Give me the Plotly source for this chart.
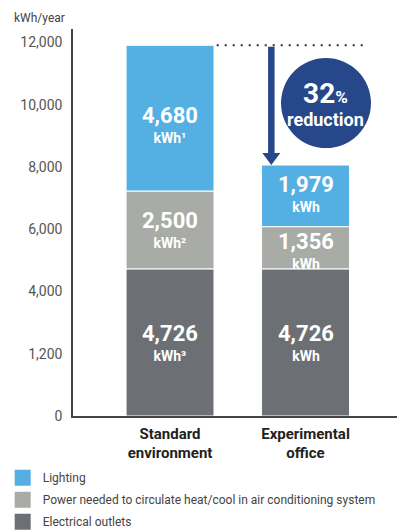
import plotly.graph_objects as go

# ---------------- data ----------------
categories = ["Standard<br>environment", "Experimental<br>office"]
series_names = ["Electrical outlets",
                "Power needed to circulate heat/cool in air conditioning system",
                "Lighting"]
outlets = [4726, 4726]
hvac = [2500, 1356]
lighting = [4680, 1979]
unit_labels = {
    "Lighting": ["kWh¹", "kWh"],
    "Power needed to circulate heat/cool in air conditioning system": ["kWh²", "kWh"],
    "Electrical outlets": ["kWh³", "kWh"],
}
y_tickvals = [0, 2000, 4000, 6000, 8000, 10000, 12000]
y_ticktext = ["0", "1,200", "4,000", "6,000", "8,000", "10,000", "12,000"]
y_title = "kWh/year"
reduction_word = "reduction"

# ---------------- style ----------------
colors = {
    "Lighting": "#54b0e3",
    "Power needed to circulate heat/cool in air conditioning system": "#a8aba6",
    "Electrical outlets": "#6c7075",
}
navy = "#27478b"
FONT = "Roboto, Liberation Sans, sans-serif"
bar_w = 0.649
xpos = [0, 1]
# pixel offsets for the value labels per series per category
label_shift = {
    "Lighting": [-6, 2],
    "Power needed to circulate heat/cool in air conditioning system": [0, -3],
    "Electrical outlets": [0, 0],
}

values = {
    "Electrical outlets": outlets,
    "Power needed to circulate heat/cool in air conditioning system": hvac,
    "Lighting": lighting,
}

fig = go.Figure()
annotations = []
base = [0, 0]
for name in series_names:
    vals = values[name]
    fig.add_trace(go.Bar(
        x=xpos, y=vals, base=base, width=bar_w, name=name,
        marker=dict(color=colors[name], line=dict(color="white", width=1)),
        showlegend=False, hoverinfo="skip",
    ))
    for j, v in enumerate(vals):
        mid = base[j] + v / 2
        annotations.append(dict(
            x=xpos[j], y=mid, xref="x", yref="y", showarrow=False,
            yshift=label_shift[name][j], yanchor="middle",
            text=(f"<b><span style='font-size:22px'>{v:,}</span></b><br>"
                  f"<b><span style='font-size:14px'>{unit_labels[name][j]}</span></b>"),
            font=dict(family=FONT, size=15, color="white")))
    base = [base[k] + vals[k] for k in range(2)]

# legend proxies (top to bottom: Lighting, HVAC, Outlets)
for name in ["Lighting", "Power needed to circulate heat/cool in air conditioning system",
             "Electrical outlets"]:
    fig.add_trace(go.Scatter(x=[None], y=[None], mode="markers", name=name, legendgroup=name,
                             marker=dict(symbol="square", size=16, color=colors[name]),
                             showlegend=True))

total_std = base[0]
total_exp = base[1]
pct = round((1 - total_exp / total_std) * 100)

arrow_x = 1 - bar_w / 2 + 0.072
shapes = [
    # dotted line at standard total
    dict(type="line", xref="x", yref="y", x0=xpos[0] + bar_w / 2 + 0.02, x1=1.424,
         y0=total_std, y1=total_std, line=dict(color="#333333", width=2, dash="2px,6px")),
    # arrow head
    dict(type="path", xref="x", yref="y", xsizemode="pixel", ysizemode="pixel",
         xanchor=arrow_x, yanchor=total_exp,
         path="M -9 12 L 9 12 L 0 0 Z", fillcolor=navy, line=dict(width=0)),
    # circle
    dict(type="circle", xref="x", yref="y", xsizemode="pixel", ysizemode="pixel",
         xanchor=1.151, yanchor=10050, x0=-45, x1=45, y0=-45, y1=45,
         fillcolor=navy, line=dict(width=0)),
]
# arrow shaft
annotations.append(dict(x=arrow_x, y=total_exp, ax=arrow_x, ay=total_std,
                        xref="x", yref="y", axref="x", ayref="y", text="",
                        showarrow=True, arrowhead=0, arrowwidth=6.5, arrowcolor=navy,
                        standoff=10))
annotations.append(dict(x=1.151, y=10050, xref="x", yref="y", showarrow=False, yshift=0,
                        text=(f"<b><span style='font-size:28px'>{pct}</span>"
                              f"<span style='font-size:17px'>%</span></b><br>"
                              f"<b>{reduction_word}</b>"),
                        font=dict(family=FONT, size=18, color="white")))
annotations.append(dict(x=-0.02, y=1.028, xref="paper", yref="paper", showarrow=False,
                        xanchor="right", yanchor="middle", text=y_title,
                        font=dict(family=FONT, size=12, color="#444444")))

fig.update_layout(
    width=400, height=532,
    margin=dict(l=73, r=3, t=29, b=116, autoexpand=False),
    paper_bgcolor="white", plot_bgcolor="white",
    barmode="overlay",
    font=dict(family=FONT),
    xaxis=dict(range=[-0.716, 1.675], tickvals=xpos, ticktext=[f"<b>{c}</b>" for c in categories],
               showline=True, linecolor="#444444", linewidth=1.5, showgrid=False, zeroline=False,
               ticks="", ticklabelstandoff=3,
               tickfont=dict(family=FONT, size=15, color="#231f20"), fixedrange=True,
               automargin=False),
    yaxis=dict(range=[0, 12430], tickvals=y_tickvals, ticktext=y_ticktext,
               showline=True, linecolor="#444444", linewidth=1.5, showgrid=False, zeroline=False,
               ticks="", ticklabelstandoff=6, automargin=False,
               tickfont=dict(family=FONT, size=14, color="#555555")),
    legend=dict(x=-0.217, xanchor="left", y=-0.122, yanchor="top", bgcolor="rgba(0,0,0,0)",
                font=dict(family=FONT, size=12, color="#444444"), itemsizing="trace",
                tracegroupgap=3),
    shapes=shapes,
    annotations=annotations,
)

fig.write_html("out.html")
